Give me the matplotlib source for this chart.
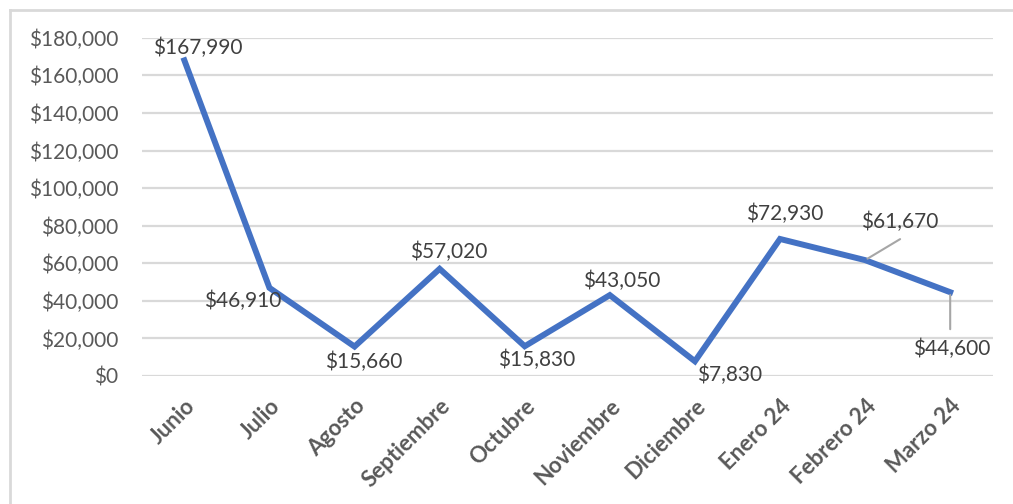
import matplotlib.pyplot as plt
from matplotlib.ticker import FuncFormatter, MultipleLocator
from matplotlib.lines import Line2D

months = ["Junio", "Julio", "Agosto", "Septiembre", "Octubre", "Noviembre",
          "Diciembre", "Enero 24", "Febrero 24", "Marzo 24"]
amounts = [167990, 46910, 15660, 57020, 15830, 43050, 7830, 72930, 61670, 44600]
# label offsets (pixels) relative to each point, and whether a leader line is drawn
label_offsets = [(13, 12), (-27, -13), (9, -15), (9, 17), (12, -14), (12, 14),
                 (35, -14), (5, 25), (35, 38), (2, -57)]
leader = [False, False, False, False, False, False, False, False, True, True]

plt.rcParams['font.family'] = ['Lato', 'DejaVu Sans']

fig = plt.figure(figsize=(10.13, 5.04), dpi=100)
ax = fig.add_axes([0.140, 0.254, 0.840, 0.671])

x = list(range(len(months)))
ax.plot(x, amounts, color='#4472C4', linewidth=4.3, solid_joinstyle='miter', zorder=3)

ax.set_xlim(-0.5, len(months) - 0.5)
ax.set_ylim(0, 180000)
ax.yaxis.set_major_locator(MultipleLocator(20000))
ax.yaxis.set_major_formatter(FuncFormatter(lambda v, p: f"${v:,.0f}"))
ax.grid(axis='y', color='#d9d9d9', linewidth=1.6, zorder=0)
for s in ax.spines.values():
    s.set_visible(False)
ax.tick_params(axis='both', length=0, labelsize=15, colors='#595959')
ax.tick_params(axis='y', pad=17)
ax.set_xticks(x)
ax.set_xticklabels(months, rotation=45, ha='right', rotation_mode='anchor',
                   fontweight='bold', fontsize=16, color='#595959')
ax.tick_params(axis='x', pad=14)

for i, v in enumerate(amounts):
    dx, dy = label_offsets[i]
    ax.annotate(f"${v:,}", (i, v), xytext=(dx, dy), textcoords='offset pixels',
                ha='center', va='center', fontsize=15, color='#404040', zorder=4)
    if leader[i]:
        if dx > 15:
            ax.annotate("", (i, v), xytext=(dx, dy - 17), textcoords='offset pixels',
                        arrowprops=dict(arrowstyle='-', color='#a6a6a6', lw=1.5,
                                        shrinkA=0, shrinkB=2))
        else:
            ax.annotate("", (i, v), xytext=(0, dy + 20), textcoords='offset pixels',
                        arrowprops=dict(arrowstyle='-', color='#a6a6a6', lw=1.5,
                                        shrinkA=0, shrinkB=2))

# outer chart border (top and left visible)
fig.add_artist(Line2D([10 / 1013, 10 / 1013], [0, 1 - 10 / 504], transform=fig.transFigure,
                      color='#d9d9d9', linewidth=2))
fig.add_artist(Line2D([10 / 1013, 1], [1 - 10 / 504, 1 - 10 / 504], transform=fig.transFigure,
                      color='#d9d9d9', linewidth=2))

fig.savefig("out.png", dpi=100)
